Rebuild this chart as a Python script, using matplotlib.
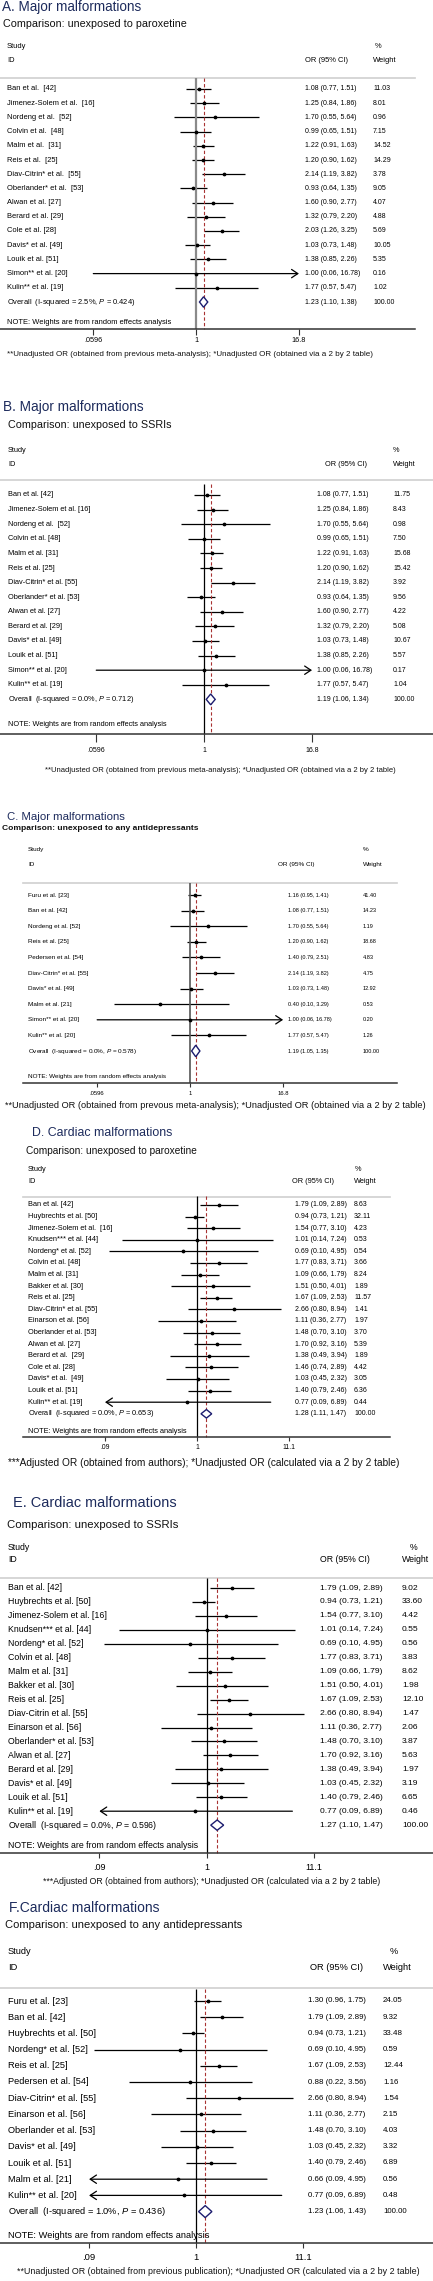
import numpy as np
import matplotlib
matplotlib.use('Agg')
import matplotlib.pyplot as plt
from matplotlib.transforms import blended_transform_factory

plt.rcParams['font.family'] = ['Liberation Sans', 'DejaVu Sans']
plt.rcParams['mathtext.fontset'] = 'custom'
plt.rcParams['mathtext.rm'] = 'Liberation Sans'
plt.rcParams['mathtext.it'] = 'Liberation Sans:italic'

W, H = 433, 2281

# ---------------- data ----------------
# A. major malformations, paroxetine
names_a = ["Ban et al.  [42]", "Jimenez-Solem et al.  [16]", "Nordeng et al.  [52]", "Colvin et al.  [48]",
           "Malm et al.  [31]", "Reis et al.  [25]", "Diav-Citrin* et al.  [55]", "Oberlander* et al.  [53]",
           "Alwan et al. [27]", "Berard et al. [29]", "Cole et al. [28]", "Davis* et al. [49]",
           "Louik et al. [51]", "Simon** et al. [20]", "Kulin** et al. [19]"]
or_a = [1.08, 1.25, 1.70, 0.99, 1.22, 1.20, 2.14, 0.93, 1.60, 1.32, 2.03, 1.03, 1.38, 1.00, 1.77]
lo_a = [0.77, 0.84, 0.55, 0.65, 0.91, 0.90, 1.19, 0.64, 0.90, 0.79, 1.26, 0.73, 0.85, 0.06, 0.57]
hi_a = [1.51, 1.86, 5.64, 1.51, 1.63, 1.62, 3.82, 1.35, 2.77, 2.20, 3.25, 1.48, 2.26, 16.78, 5.47]
w_a = [11.03, 8.01, 0.96, 7.15, 14.52, 14.29, 3.78, 9.05, 4.07, 4.88, 5.69, 10.05, 5.35, 0.16, 1.02]
overall_a = (1.23, 1.10, 1.38)
het_a = (2.5, 0.424)

# B. major malformations, SSRIs
names_b = ["Ban et al. [42]", "Jimenez-Solem et al. [16]", "Nordeng et al.  [52]", "Colvin et al. [48]",
           "Malm et al. [31]", "Reis et al. [25]", "Diav-Citrin* et al. [55]", "Oberlander* et al. [53]",
           "Alwan et al. [27]", "Berard et al. [29]", "Davis* et al. [49]", "Louik et al. [51]",
           "Simon** et al. [20]", "Kulin** et al. [19]"]
or_b = [1.08, 1.25, 1.70, 0.99, 1.22, 1.20, 2.14, 0.93, 1.60, 1.32, 1.03, 1.38, 1.00, 1.77]
lo_b = [0.77, 0.84, 0.55, 0.65, 0.91, 0.90, 1.19, 0.64, 0.90, 0.79, 0.73, 0.85, 0.06, 0.57]
hi_b = [1.51, 1.86, 5.64, 1.51, 1.63, 1.62, 3.82, 1.35, 2.77, 2.20, 1.48, 2.26, 16.78, 5.47]
w_b = [11.75, 8.43, 0.98, 7.50, 15.68, 15.42, 3.92, 9.56, 4.22, 5.08, 10.67, 5.57, 0.17, 1.04]
overall_b = (1.19, 1.06, 1.34)
het_b = (0.0, 0.712)

# C. major malformations, any antidepressants
names_c = ["Furu et al. [23]", "Ban et al. [42]", "Nordeng et al. [52]", "Reis et al. [25]",
           "Pedersen et al. [54]", "Diav-Citrin* et al. [55]", "Davis* et al. [49]", "Malm et al. [21]",
           "Simon** et al. [20]", "Kulin** et al. [20]"]
or_c = [1.16, 1.08, 1.70, 1.20, 1.40, 2.14, 1.03, 0.40, 1.00, 1.77]
lo_c = [0.95, 0.77, 0.55, 0.90, 0.79, 1.19, 0.73, 0.10, 0.06, 0.57]
hi_c = [1.41, 1.51, 5.64, 1.62, 2.51, 3.82, 1.48, 3.29, 16.78, 5.47]
w_c = [41.40, 14.23, 1.19, 18.68, 4.83, 4.75, 12.92, 0.53, 0.20, 1.26]
overall_c = (1.19, 1.05, 1.35)
het_c = (0.0, 0.578)

# D. cardiac malformations, paroxetine
names_d = ["Ban et al. [42]", "Huybrechts et al. [50]", "Jimenez-Solem et al.  [16]", "Knudsen*** et al. [44]",
           "Nordeng* et al. [52]", "Colvin et al. [48]", "Malm et al. [31]", "Bakker et al. [30]",
           "Reis et al. [25]", "Diav-Citrin* et al. [55]", "Einarson et al. [56]", "Oberlander et al. [53]",
           "Alwan et al. [27]", "Berard et al.  [29]", "Cole et al. [28]", "Davis* et al.  [49]",
           "Louik et al. [51]", "Kulin** et al. [19]"]
or_d = [1.79, 0.94, 1.54, 1.01, 0.69, 1.77, 1.09, 1.51, 1.67, 2.66, 1.11, 1.48, 1.70, 1.38, 1.46, 1.03, 1.40, 0.77]
lo_d = [1.09, 0.73, 0.77, 0.14, 0.10, 0.83, 0.66, 0.50, 1.09, 0.80, 0.36, 0.70, 0.92, 0.49, 0.74, 0.45, 0.79, 0.09]
hi_d = [2.89, 1.21, 3.10, 7.24, 4.95, 3.71, 1.79, 4.01, 2.53, 8.94, 2.77, 3.10, 3.16, 3.94, 2.89, 2.32, 2.46, 6.89]
w_d = [8.63, 32.11, 4.23, 0.53, 0.54, 3.66, 8.24, 1.89, 11.57, 1.41, 1.97, 3.70, 5.39, 1.89, 4.42, 3.05, 6.36, 0.44]
overall_d = (1.28, 1.11, 1.47)
het_d = (0.0, 0.653)

# E. cardiac malformations, SSRIs
names_e = ["Ban et al. [42]", "Huybrechts et al. [50]", "Jimenez-Solem et al. [16]", "Knudsen*** et al. [44]",
           "Nordeng* et al. [52]", "Colvin et al. [48]", "Malm et al. [31]", "Bakker et al. [30]",
           "Reis et al. [25]", "Diav-Citrin et al. [55]", "Einarson et al. [56]", "Oberlander* et al. [53]",
           "Alwan et al. [27]", "Berard et al. [29]", "Davis* et al. [49]", "Louik et al. [51]",
           "Kulin** et al. [19]"]
or_e = [1.79, 0.94, 1.54, 1.01, 0.69, 1.77, 1.09, 1.51, 1.67, 2.66, 1.11, 1.48, 1.70, 1.38, 1.03, 1.40, 0.77]
lo_e = [1.09, 0.73, 0.77, 0.14, 0.10, 0.83, 0.66, 0.50, 1.09, 0.80, 0.36, 0.70, 0.92, 0.49, 0.45, 0.79, 0.09]
hi_e = [2.89, 1.21, 3.10, 7.24, 4.95, 3.71, 1.79, 4.01, 2.53, 8.94, 2.77, 3.10, 3.16, 3.94, 2.32, 2.46, 6.89]
w_e = [9.02, 33.60, 4.42, 0.55, 0.56, 3.83, 8.62, 1.98, 12.10, 1.47, 2.06, 3.87, 5.63, 1.97, 3.19, 6.65, 0.46]
overall_e = (1.27, 1.10, 1.47)
het_e = (0.0, 0.596)

# F. cardiac malformations, any antidepressants
names_f = ["Furu et al. [23]", "Ban et al. [42]", "Huybrechts et al. [50]", "Nordeng* et al. [52]",
           "Reis et al. [25]", "Pedersen et al. [54]", "Diav-Citrin* et al. [55]", "Einarson et al. [56]",
           "Oberlander et al. [53]", "Davis* et al. [49]", "Louik et al. [51]", "Malm et al. [21]",
           "Kulin** et al. [20]"]
or_f = [1.30, 1.79, 0.94, 0.69, 1.67, 0.88, 2.66, 1.11, 1.48, 1.03, 1.40, 0.66, 0.77]
lo_f = [0.96, 1.09, 0.73, 0.10, 1.09, 0.22, 0.80, 0.36, 0.70, 0.45, 0.79, 0.09, 0.09]
hi_f = [1.75, 2.89, 1.21, 4.95, 2.53, 3.56, 8.94, 2.77, 3.10, 2.32, 2.46, 4.95, 6.89]
w_f = [24.05, 9.32, 33.48, 0.59, 12.44, 1.16, 1.54, 2.15, 4.03, 3.32, 6.89, 0.56, 0.48]
overall_f = (1.23, 1.06, 1.43)
het_f = (1.0, 0.436)

ticks_major = [0.0596, 1, 16.8]
ticklab_major = [".0596", "1", "16.8"]
ticks_card = [0.09, 1, 11.1]
ticklab_card = [".09", "1", "11.1"]

titles = ["A. Major malformations", "B. Major malformations", "C. Major malformations",
          "D. Cardiac malformations", "E. Cardiac malformations", "F.Cardiac malformations"]
subtitles = ["Comparison: unexposed to paroxetine", "Comparison: unexposed to SSRIs",
             "Comparison: unexposed to any antidepressants", "Comparison: unexposed to paroxetine",
             "Comparison: unexposed to SSRIs", "Comparison: unexposed to any antidepressants"]
foot_major = "**Unadjusted OR (obtained from previous meta-analysis); *Unadjusted OR (obtained via a 2 by 2 table)"
foot_c = "**Unadjusted OR (obtained from prevous meta-analysis); *Unadjusted OR (obtained via a 2 by 2 table)"
foot_card = "***Adjusted OR (obtained from authors); *Unadjusted OR (calculated via a 2 by 2 table)"
foot_f = "**Unadjusted OR (obtained from previous publication); *Unadjusted OR (calculated via a 2 by 2 table)"

# ---------------- layout (pixels) ----------------
lay_a = dict(top=0, bot=366, title=(2, 7, 140), sub=(3, 24, 183), study_y=47, id_y=61, name_x=7,
             orh_x=305, or_x=305, pct_x=375, wh_x=373, w_x=373, hline=(78, 0, 415), row0=89, sp=14.2,
             note_y=323, axis=(329, 0, 415), tick_y=341, tlen=6, foot=(7, 354, 370), x0=196, k=36.5,
             null=('#8a8a8a', 1.6), fs=5.4, fn=5.0, ft=5.2, subw='normal')
lay_b = dict(top=368, bot=782, title=(3, 407, 141), sub=(8, 425, 163), study_y=450, id_y=465, name_x=8,
             orh_x=325, or_x=317, pct_x=393, wh_x=393, w_x=393, hline=(480, 0, 433), row0=495, sp=14.6,
             note_y=724, axis=(734, 0, 433), tick_y=750, tlen=8, foot=(45, 770, 352), x0=204, k=38.3,
             null=('k', 0.9), fs=5.3, fn=5.0, ft=5.0, subw='normal')
lay_c = dict(top=784, bot=1114, title=(7, 817, 118), sub=(2, 828, 195), study_y=849, id_y=864, name_x=28,
             orh_x=278, or_x=288, pct_x=363, wh_x=363, w_x=363, hline=(883, 23, 397), row0=895, sp=15.6,
             note_y=1076, axis=(1083, 23, 397), tick_y=1093, tlen=4, foot=(5, 1105, 423), x0=190, k=33.0,
             null=('#555555', 1.2), fs=4.6, fn=4.0, ft=4.2, subw='bold')
lay_d = dict(top=1116, bot=1472, title=(32, 1133, 140), sub=(26, 1151, 173), study_y=1170, id_y=1182,
             name_x=28, orh_x=292, or_x=295, pct_x=355, wh_x=354, w_x=354, hline=(1197, 23, 390), row0=1205,
             sp=11.6, note_y=1432, axis=(1437, 23, 390), tick_y=1448, tlen=4, foot=(8, 1463, 398), x0=197,
             k=38.2, null=('k', 0.9), fs=5.3, fn=5.0, ft=4.9, subw='normal')
lay_e = dict(top=1488, bot=1892, title=(13, 1503, 163), sub=(7, 1525, 173), study_y=1547, id_y=1560,
             name_x=8, orh_x=320, or_x=320, pct_x=410, wh_x=402, w_x=402, hline=(1578, 0, 433), row0=1588,
             sp=13.95, note_y=1846, axis=(1853, 0, 433), tick_y=1867, tlen=5, foot=(43, 1882, 343), x0=206.5,
             k=44.5, null=('k', 0.9), fs=6.3, fn=6.1, ft=6.5, subw='normal')
lay_f = dict(top=1894, bot=2281, title=(9, 1908, 151), sub=(5, 1925, 238), study_y=1952, id_y=1967,
             name_x=8, orh_x=310, or_x=308, pct_x=390, wh_x=383, w_x=383, hline=(1988, 0, 433), row0=2001,
             sp=16.2, note_y=2236, axis=(2243, 0, 433), tick_y=2257, tlen=5, foot=(17, 2272, 405), x0=196,
             k=44.4, null=('k', 0.9), fs=6.7, fn=5.7, ft=6.8, subw='normal')

fig = plt.figure(figsize=(W / 100, H / 100), dpi=100)
fig.patch.set_facecolor('white')
renderer = fig.canvas.get_renderer()


def fit(t, width):
    # scale the font so the text gets the wanted width in pixels
    w = t.get_window_extent(renderer).width
    t.set_fontsize(t.get_fontsize() * width / w)


def forest(title, subtitle, footnote, names, est, lo, hi, wts, overall, het, ticks, ticklabels, L):
    top, bot = L['top'], L['bot']
    ax = fig.add_axes([0, 1 - bot / H, 1, (bot - top) / H])
    ax.set_xscale('log')
    xl = (np.exp(-L['x0'] / L['k']), np.exp((W - L['x0']) / L['k']))
    ax.set_xlim(xl)
    ax.set_ylim(bot, top)
    ax.axis('off')
    tr = blended_transform_factory(ax.transAxes, ax.transData)

    def tx(xp, y, s, **kw):
        return ax.text(xp / W, y, s, transform=tr, va='center', **kw)

    t = tx(L['title'][0], L['title'][1], title, color='#1d2b5c', fontsize=10)
    fit(t, L['title'][2])
    t = tx(L['sub'][0], L['sub'][1], subtitle, color='#111111', fontsize=8, fontweight=L['subw'])
    fit(t, L['sub'][2])
    t = tx(L['foot'][0], L['foot'][1], footnote, color='#111111', fontsize=6)
    fit(t, L['foot'][2])

    fs, fn = L['fs'], L['fn']
    tx(L['name_x'], L['study_y'], "Study", fontsize=fs)
    tx(L['name_x'], L['id_y'], "ID", fontsize=fs)
    tx(L['orh_x'], L['id_y'], "OR (95% CI)", fontsize=fs)
    tx(L['pct_x'], L['study_y'], "%", fontsize=fs)
    tx(L['wh_x'], L['id_y'], "Weight", fontsize=fs)

    hy, hx0, hx1 = L['hline']
    ax.plot([hx0 / W, hx1 / W], [hy, hy], transform=tr, color='#cfcfcf', lw=1.2)

    # studies
    n = len(names)
    ys = L['row0'] + L['sp'] * np.arange(n + 1)
    tmin, tmax = ticks[0], ticks[-1]
    for i in range(n):
        y = ys[i]
        tx(L['name_x'], y, names[i], fontsize=fs)
        tx(L['or_x'], y, "%.2f (%.2f, %.2f)" % (est[i], lo[i], hi[i]), fontsize=fn)
        tx(L['w_x'], y, "%.2f" % wts[i], fontsize=fn)
        a = max(lo[i], tmin)
        b = min(hi[i], tmax)
        if hi[i] >= tmax * 0.995:
            ax.annotate('', xy=(hi[i], y), xytext=(a, y),
                        arrowprops=dict(arrowstyle='->,head_length=0.45,head_width=0.3', lw=0.9,
                                        color='k', shrinkA=0, shrinkB=0))
        elif lo[i] <= tmin:
            ax.annotate('', xy=(tmin, y), xytext=(b, y),
                        arrowprops=dict(arrowstyle='->,head_length=0.45,head_width=0.3', lw=0.9,
                                        color='k', shrinkA=0, shrinkB=0))
        else:
            ax.plot([a, b], [y, y], color='k', lw=0.9, solid_capstyle='butt')
    ax.plot(est, ys[:n], 'o', color='k', ms=1.7, zorder=4)

    # pooled estimate
    yo = ys[n]
    oe, ol, oh = overall
    tx(L['name_x'], yo, "Overall  (I-squared = %.1f%%, $\\mathit{P}$ = %.3f)" % het, fontsize=fs)
    tx(L['or_x'], yo, "%.2f (%.2f, %.2f)" % overall, fontsize=fn)
    tx(L['w_x'], yo, "100.00", fontsize=fn)
    dh = 0.37 * L['sp']
    ax.fill([ol, oe, oh, oe], [yo, yo - dh, yo, yo + dh], facecolor='white', edgecolor='#1c1c6e',
            lw=1.0, zorder=5)

    tx(L['name_x'], L['note_y'], "NOTE: Weights are from random effects analysis", fontsize=fs)

    # null line, pooled line, x axis
    ay, ax0, ax1 = L['axis']
    ytop = L['row0'] - 0.75 * L['sp']
    ax.vlines(1, ytop, ay, color=L['null'][0], lw=L['null'][1], zorder=2)
    ax.vlines(oe, ytop, ay, color='#a83232', lw=0.8, linestyles=(0, (3, 2)), zorder=2)
    ax.plot([ax0 / W, ax1 / W], [ay, ay], transform=tr, color='#333333', lw=1.1)
    ax.vlines(ticks, ay, ay + L['tlen'], color='#333333', lw=0.8)
    for tv, tl in zip(ticks, ticklabels):
        ax.text(tv, L['tick_y'], tl, ha='center', va='center', fontsize=L['ft'])
    ax.set_xlim(xl)
    ax.set_ylim(bot, top)


forest(titles[0], subtitles[0], foot_major, names_a, or_a, lo_a, hi_a, w_a, overall_a, het_a,
       ticks_major, ticklab_major, lay_a)
forest(titles[1], subtitles[1], foot_major, names_b, or_b, lo_b, hi_b, w_b, overall_b, het_b,
       ticks_major, ticklab_major, lay_b)
forest(titles[2], subtitles[2], foot_c, names_c, or_c, lo_c, hi_c, w_c, overall_c, het_c,
       ticks_major, ticklab_major, lay_c)
forest(titles[3], subtitles[3], foot_card, names_d, or_d, lo_d, hi_d, w_d, overall_d, het_d,
       ticks_card, ticklab_card, lay_d)
forest(titles[4], subtitles[4], foot_card, names_e, or_e, lo_e, hi_e, w_e, overall_e, het_e,
       ticks_card, ticklab_card, lay_e)
forest(titles[5], subtitles[5], foot_f, names_f, or_f, lo_f, hi_f, w_f, overall_f, het_f,
       ticks_card, ticklab_card, lay_f)

fig.savefig('out.png', dpi=100, facecolor='white')
